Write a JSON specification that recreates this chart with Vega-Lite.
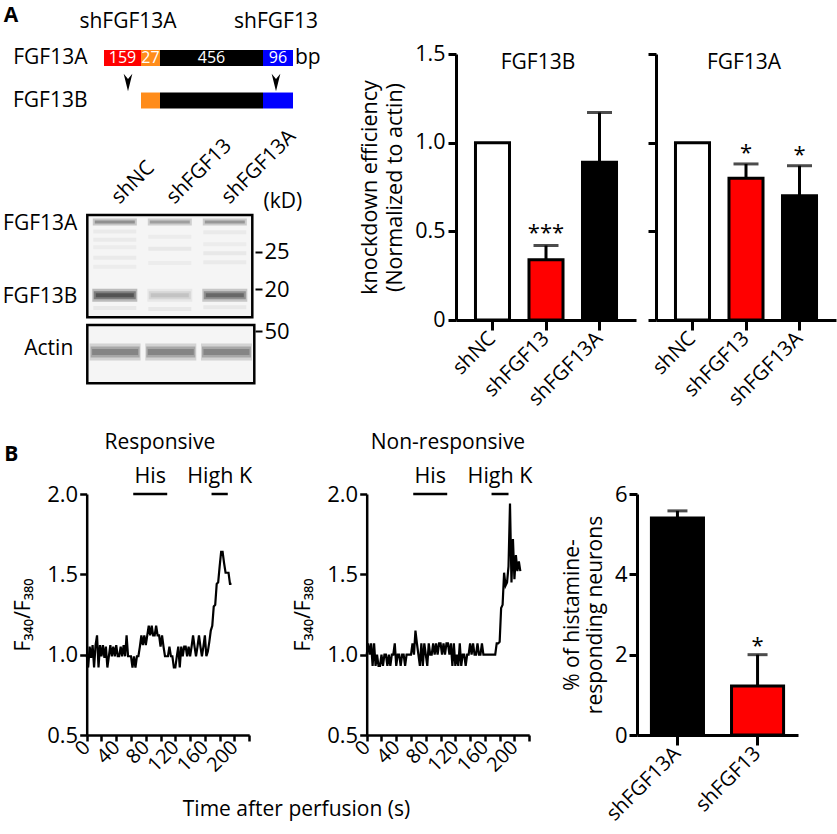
{
"$schema": "https://vega.github.io/schema/vega-lite/v6.json",
"width": 837, "height": 834,
"autosize": {"type": "none"},
"padding": 0,
"background": "white",
"config": {
  "font": "Open Sans",
  "view": {"stroke": null},
  "axis": {"grid": false, "domainColor": "black", "tickColor": "black", "labelColor": "black", "titleColor": "black", "labelFont": "Open Sans", "titleFont": "Open Sans", "titleFontWeight": "normal"},
  "text": {"font": "Open Sans", "color": "black"},
  "legend": {"disable": true}
},
"datasets": {
  "gene": [
    {"isoform": "FGF13A", "region": "r1", "start": 0, "end": 37, "label": "159"},
    {"isoform": "FGF13A", "region": "r2", "start": 37, "end": 56, "label": "27"},
    {"isoform": "FGF13A", "region": "r3", "start": 56, "end": 159, "label": "456"},
    {"isoform": "FGF13A", "region": "r4", "start": 159, "end": 189, "label": "96"},
    {"isoform": "FGF13B", "region": "r2", "start": 37, "end": 56, "label": ""},
    {"isoform": "FGF13B", "region": "r3", "start": 56, "end": 159, "label": ""},
    {"isoform": "FGF13B", "region": "r4", "start": 159, "end": 189, "label": ""}
  ],
  "targets": [{"shRNA": "shFGF13A", "pos": 24}, {"shRNA": "shFGF13", "pos": 172}],
  "blotMain": [
    {"lane": 1, "protein": "FGF13A", "kD": 28.95, "intensity": 0.55},
    {"lane": 2, "protein": "FGF13A", "kD": 28.95, "intensity": 0.45},
    {"lane": 3, "protein": "FGF13A", "kD": 28.95, "intensity": 0.5},
    {"lane": 1, "protein": "FGF13B", "kD": 19.2, "intensity": 0.9},
    {"lane": 2, "protein": "FGF13B", "kD": 19.2, "intensity": 0.2},
    {"lane": 3, "protein": "FGF13B", "kD": 19.2, "intensity": 0.72}
  ],
  "blotFaint": [
    {"lane": 1, "kD": 27.7, "intensity": 0.05}, {"lane": 1, "kD": 26.6, "intensity": 0.05}, {"lane": 1, "kD": 25.6, "intensity": 0.04}, {"lane": 1, "kD": 24.2, "intensity": 0.05}, {"lane": 1, "kD": 23.0, "intensity": 0.04}, {"lane": 1, "kD": 17.5, "intensity": 0.06},
    {"lane": 2, "kD": 27.0, "intensity": 0.04}, {"lane": 2, "kD": 25.4, "intensity": 0.06}, {"lane": 2, "kD": 23.5, "intensity": 0.04}, {"lane": 2, "kD": 17.4, "intensity": 0.06},
    {"lane": 3, "kD": 27.6, "intensity": 0.05}, {"lane": 3, "kD": 26.0, "intensity": 0.04}, {"lane": 3, "kD": 24.8, "intensity": 0.06}, {"lane": 3, "kD": 23.6, "intensity": 0.05}, {"lane": 3, "kD": 17.6, "intensity": 0.06}
  ],
  "blotRows": [{"row": "FGF13A", "kD": 28.95}, {"row": "FGF13B", "kD": 19.2}],
  "actin": [{"lane": 1, "kD": 43, "intensity": 0.62}, {"lane": 2, "kD": 43, "intensity": 0.62}, {"lane": 3, "kD": 43, "intensity": 0.62}],
  "kdB": [{"group": "shNC", "mean": 1.0}, {"group": "shFGF13", "mean": 0.34, "upper": 0.42, "sig": "***"}, {"group": "shFGF13A", "mean": 0.89, "upper": 1.17}],
  "kdA": [{"group": "shNC", "mean": 1.0}, {"group": "shFGF13", "mean": 0.8, "upper": 0.88, "sig": "*"}, {"group": "shFGF13A", "mean": 0.7, "upper": 0.87, "sig": "*"}],
  "pct": [{"group": "shFGF13A", "mean": 5.4, "upper": 5.58}, {"group": "shFGF13", "mean": 1.22, "upper": 2.0, "sig": "*"}],
  "stim": [
    {"panel": "Responsive", "label": "His", "start": 63, "end": 109},
    {"panel": "Responsive", "label": "High K", "start": 169, "end": 191},
    {"panel": "Non-responsive", "label": "His", "start": 63, "end": 109},
    {"panel": "Non-responsive", "label": "High K", "start": 169, "end": 192}
  ],
  "resp": [{"t":0,"v":1.0},{"t":2,"v":0.92},{"t":4,"v":1.05},{"t":6,"v":0.98},{"t":8,"v":1.06},{"t":10,"v":0.92},{"t":12,"v":1.06},{"t":14,"v":1.12},{"t":16,"v":0.92},{"t":18,"v":1.06},{"t":20,"v":0.99},{"t":22,"v":1.06},{"t":24,"v":0.98},{"t":26,"v":1.05},{"t":28,"v":0.92},{"t":30,"v":0.99},{"t":32,"v":1.06},{"t":34,"v":0.99},{"t":36,"v":1.05},{"t":38,"v":0.99},{"t":40,"v":1.06},{"t":42,"v":0.99},{"t":44,"v":0.99},{"t":46,"v":1.05},{"t":48,"v":0.99},{"t":50,"v":1.06},{"t":52,"v":0.99},{"t":54,"v":1.12},{"t":56,"v":0.99},{"t":58,"v":0.99},{"t":60,"v":0.99},{"t":62,"v":0.92},{"t":64,"v":0.99},{"t":66,"v":0.92},{"t":68,"v":0.99},{"t":70,"v":0.99},{"t":72,"v":1.05},{"t":74,"v":1.12},{"t":76,"v":1.06},{"t":78,"v":1.12},{"t":80,"v":1.06},{"t":82,"v":1.12},{"t":84,"v":1.18},{"t":86,"v":1.12},{"t":88,"v":1.18},{"t":90,"v":1.12},{"t":92,"v":1.12},{"t":94,"v":1.18},{"t":96,"v":1.12},{"t":98,"v":1.12},{"t":100,"v":1.05},{"t":102,"v":1.12},{"t":104,"v":1.05},{"t":106,"v":0.99},{"t":108,"v":0.99},{"t":110,"v":0.99},{"t":112,"v":1.05},{"t":114,"v":0.99},{"t":116,"v":0.99},{"t":118,"v":0.92},{"t":120,"v":0.92},{"t":122,"v":0.99},{"t":124,"v":1.05},{"t":126,"v":0.92},{"t":128,"v":1.05},{"t":130,"v":0.99},{"t":132,"v":1.05},{"t":134,"v":1.05},{"t":136,"v":0.99},{"t":138,"v":1.05},{"t":140,"v":0.99},{"t":142,"v":1.05},{"t":144,"v":1.12},{"t":146,"v":1.05},{"t":148,"v":0.99},{"t":150,"v":1.05},{"t":152,"v":1.12},{"t":154,"v":1.05},{"t":156,"v":0.99},{"t":158,"v":1.05},{"t":160,"v":1.12},{"t":162,"v":0.99},{"t":164,"v":1.02},{"t":166,"v":1.08},{"t":168,"v":1.15},{"t":170,"v":1.18},{"t":172,"v":1.30},{"t":174,"v":1.31},{"t":176,"v":1.44},{"t":178,"v":1.45},{"t":180,"v":1.55},{"t":182,"v":1.64},{"t":184,"v":1.64},{"t":186,"v":1.57},{"t":188,"v":1.51},{"t":190,"v":1.51},{"t":192,"v":1.51},{"t":194,"v":1.44},{"t":196,"v":1.44}],
  "nonresp": [{"t":0,"v":1.0},{"t":2,"v":1.07},{"t":4,"v":1.0},{"t":6,"v":1.07},{"t":8,"v":0.93},{"t":10,"v":1.07},{"t":12,"v":0.93},{"t":14,"v":1.0},{"t":16,"v":0.93},{"t":18,"v":0.93},{"t":20,"v":1.0},{"t":22,"v":0.93},{"t":24,"v":1.0},{"t":26,"v":1.0},{"t":28,"v":0.93},{"t":30,"v":1.0},{"t":32,"v":0.93},{"t":34,"v":1.0},{"t":36,"v":1.0},{"t":38,"v":1.07},{"t":40,"v":0.93},{"t":42,"v":1.0},{"t":44,"v":1.0},{"t":46,"v":0.93},{"t":48,"v":1.0},{"t":50,"v":1.0},{"t":52,"v":0.93},{"t":54,"v":1.0},{"t":56,"v":1.0},{"t":58,"v":1.0},{"t":60,"v":1.0},{"t":62,"v":1.07},{"t":64,"v":1.0},{"t":66,"v":1.15},{"t":68,"v":1.07},{"t":70,"v":1.0},{"t":72,"v":0.93},{"t":74,"v":1.07},{"t":76,"v":0.93},{"t":78,"v":1.07},{"t":80,"v":1.0},{"t":82,"v":0.93},{"t":84,"v":1.07},{"t":86,"v":1.0},{"t":88,"v":1.0},{"t":90,"v":1.07},{"t":92,"v":1.0},{"t":94,"v":1.07},{"t":96,"v":1.0},{"t":98,"v":1.07},{"t":100,"v":1.07},{"t":102,"v":1.0},{"t":104,"v":1.07},{"t":106,"v":1.0},{"t":108,"v":1.07},{"t":110,"v":1.07},{"t":112,"v":1.0},{"t":114,"v":1.07},{"t":116,"v":0.93},{"t":118,"v":1.07},{"t":120,"v":0.93},{"t":122,"v":1.0},{"t":124,"v":0.93},{"t":126,"v":1.07},{"t":128,"v":0.93},{"t":130,"v":1.0},{"t":132,"v":1.0},{"t":134,"v":0.93},{"t":136,"v":1.0},{"t":138,"v":1.0},{"t":140,"v":1.07},{"t":142,"v":1.0},{"t":144,"v":1.07},{"t":146,"v":1.0},{"t":148,"v":1.0},{"t":150,"v":1.07},{"t":152,"v":1.0},{"t":154,"v":1.0},{"t":156,"v":1.07},{"t":158,"v":1.0},{"t":160,"v":1.0},{"t":162,"v":1.0},{"t":164,"v":1.0},{"t":166,"v":1.0},{"t":168,"v":1.0},{"t":170,"v":1.0},{"t":172,"v":1.0},{"t":174,"v":1.0},{"t":176,"v":1.07},{"t":178,"v":1.07},{"t":180,"v":1.08},{"t":182,"v":1.29},{"t":184,"v":1.31},{"t":186,"v":1.51},{"t":188,"v":1.43},{"t":190,"v":1.45},{"t":192,"v":1.55},{"t":194,"v":1.94},{"t":196,"v":1.45},{"t":198,"v":1.72},{"t":200,"v":1.47},{"t":202,"v":1.62},{"t":204,"v":1.52},{"t":206,"v":1.58},{"t":208,"v":1.52}]
},
"resolve": {"scale": {"x": "independent", "y": "independent", "color": "independent", "opacity": "independent"}, "axis": {"x": "independent", "y": "independent"}},
"layer": [
  {
    "data": {"name": "gene"},
    "layer": [
      {"mark": {"type": "rect"},
       "encoding": {
         "x": {"field": "start", "type": "quantitative", "scale": {"domain": [0, 189], "range": [104, 293], "nice": false, "zero": false}, "axis": null},
         "x2": {"field": "end"},
         "y": {"field": "isoform", "type": "nominal", "scale": {"type": "band", "domain": ["FGF13A", "FGF13B"], "range": [50, 108.5], "paddingInner": 0.624, "paddingOuter": 0}, "axis": {"orient": "left", "offset": -88, "domain": false, "ticks": false, "tickSize": 0, "labelPadding": 1, "labelFontSize": 21, "title": null}},
         "color": {"field": "region", "type": "nominal", "scale": {"domain": ["r1", "r2", "r3", "r4"], "range": ["#ff0000", "#ff8c1a", "#000000", "#0000ff"]}, "legend": null}
       }},
      {"transform": [{"filter": "datum.label != ''"}, {"calculate": "(datum.start + datum.end) / 2", "as": "mid"}],
       "mark": {"type": "text", "color": "white", "fontSize": 16, "baseline": "middle"},
       "encoding": {"x": {"field": "mid", "type": "quantitative", "axis": null}, "y": {"field": "isoform", "type": "nominal", "axis": null}, "text": {"field": "label"}}},
      {"data": {"values": [{"unit": "bp"}]},
       "mark": {"type": "text", "fontSize": 21, "align": "left", "dx": 2, "baseline": "middle"},
       "encoding": {"x": {"datum": 189, "type": "quantitative", "axis": null}, "y": {"datum": "FGF13A", "type": "nominal", "axis": null}, "text": {"field": "unit"}}},
      {"data": {"name": "targets"},
       "mark": {"type": "point", "shape": "M-0.5,-1L0,1L0.5,-1L0,-0.4Z", "filled": true, "size": 300, "color": "black", "opacity": 1},
       "encoding": {"x": {"field": "pos", "type": "quantitative", "axis": null}, "y": {"datum": "FGF13B", "type": "nominal", "axis": null}, "yOffset": {"value": -10}}},
      {"data": {"name": "targets"},
       "mark": {"type": "text", "fontSize": 21, "dy": -36, "baseline": "middle"},
       "encoding": {"x": {"field": "pos", "type": "quantitative", "axis": null}, "y": {"datum": "FGF13A", "type": "nominal", "axis": null}, "text": {"field": "shRNA"}}},
      {"data": {"values": [{"panel": "A"}]},
       "mark": {"type": "text", "fontSize": 21, "fontWeight": "bold", "dy": -42, "baseline": "middle"},
       "encoding": {"x": {"datum": -93, "type": "quantitative", "axis": null}, "y": {"datum": "FGF13A", "type": "nominal", "axis": null}, "text": {"field": "panel"}}}
    ],
    "resolve": {"axis": {"x": "independent", "y": "independent"}}
  },
  {
    "layer": [
      {"data": {"values": [{"box": 1}]},
       "mark": {"type": "rect", "fill": "#f5f5f5", "stroke": "black", "strokeWidth": 2.5},
       "encoding": {
         "x": {"datum": 0.5, "type": "quantitative", "scale": {"domain": [0.5, 3.5], "range": [87.3, 252.3], "nice": false, "zero": false}, "axis": null},
         "x2": {"datum": 3.5},
         "y": {"datum": 16.28, "type": "quantitative", "scale": {"domain": [16.28, 29.88], "range": [317.3, 215], "nice": false, "zero": false}, "axis": null},
         "y2": {"datum": 29.88}
       }},
      {"data": {"name": "blotFaint"},
       "mark": {"type": "tick", "orient": "horizontal", "size": 43, "thickness": 4, "color": "#222222"},
       "encoding": {"x": {"field": "lane", "type": "quantitative", "axis": null}, "y": {"field": "kD", "type": "quantitative", "axis": null}, "opacity": {"field": "intensity", "type": "quantitative", "scale": {"domain": [0, 1], "range": [0, 1]}, "legend": null}}},
      {"data": {"name": "blotMain"}, "transform": [{"filter": "datum.protein == 'FGF13A'"}],
       "mark": {"type": "tick", "orient": "horizontal", "size": 44, "thickness": 7, "color": "#222222", "fillOpacity": 0.4},
       "encoding": {"x": {"field": "lane", "type": "quantitative", "axis": null}, "y": {"field": "kD", "type": "quantitative", "axis": null}, "opacity": {"field": "intensity", "type": "quantitative", "legend": null}}},
      {"data": {"name": "blotMain"}, "transform": [{"filter": "datum.protein == 'FGF13A'"}],
       "mark": {"type": "tick", "orient": "horizontal", "size": 40, "thickness": 3, "color": "#222222", "fillOpacity": 0.6},
       "encoding": {"x": {"field": "lane", "type": "quantitative", "axis": null}, "y": {"field": "kD", "type": "quantitative", "axis": null}, "opacity": {"field": "intensity", "type": "quantitative", "legend": null}}},
      {"data": {"name": "blotMain"}, "transform": [{"filter": "datum.protein == 'FGF13B'"}],
       "mark": {"type": "tick", "orient": "horizontal", "size": 45, "thickness": 13, "color": "#222222", "fillOpacity": 0.3},
       "encoding": {"x": {"field": "lane", "type": "quantitative", "axis": null}, "y": {"field": "kD", "type": "quantitative", "axis": null}, "opacity": {"field": "intensity", "type": "quantitative", "legend": null}}},
      {"data": {"name": "blotMain"}, "transform": [{"filter": "datum.protein == 'FGF13B'"}],
       "mark": {"type": "tick", "orient": "horizontal", "size": 42, "thickness": 8, "color": "#222222", "fillOpacity": 0.45},
       "encoding": {"x": {"field": "lane", "type": "quantitative", "axis": null}, "y": {"field": "kD", "type": "quantitative", "axis": null}, "opacity": {"field": "intensity", "type": "quantitative", "legend": null}}},
      {"data": {"name": "blotMain"}, "transform": [{"filter": "datum.protein == 'FGF13B'"}],
       "mark": {"type": "tick", "orient": "horizontal", "size": 38, "thickness": 4, "color": "#222222", "fillOpacity": 0.5},
       "encoding": {
         "x": {"field": "lane", "type": "quantitative", "axis": {"orient": "top", "offset": -215, "values": [1, 2, 3], "labelExpr": "['shNC','shFGF13','shFGF13A'][datum.value - 1]", "domain": false, "ticks": false, "tickSize": 0, "labelAngle": -45, "labelAlign": "left", "labelBaseline": "middle", "labelPadding": 15, "labelFontSize": 20.5, "labelFlush": false, "labelOverlap": false, "title": null}},
         "y": {"field": "kD", "type": "quantitative", "axis": {"orient": "right", "offset": -582, "values": [20, 25], "domain": false, "tickSize": 7, "tickWidth": 2, "labelPadding": 2, "labelFontSize": 22, "title": "(kD)", "titleAngle": 0, "titleAlign": "left", "titleBaseline": "middle", "titleX": 8, "titleY": 201, "titleFontSize": 21}},
         "opacity": {"field": "intensity", "type": "quantitative", "legend": null}
       }},
      {"data": {"name": "blotRows"},
       "mark": {"type": "text", "fontSize": 21, "align": "right", "baseline": "middle", "dx": -10, "dy": 2},
       "encoding": {"x": {"datum": 0.5, "type": "quantitative", "axis": null}, "y": {"field": "kD", "type": "quantitative", "axis": null}, "text": {"field": "row"}}}
    ],
    "resolve": {"axis": {"x": "independent", "y": "independent"}}
  },
  {
    "layer": [
      {"data": {"values": [{"box": 2}]},
       "mark": {"type": "rect", "fill": "#f5f5f5", "stroke": "black", "strokeWidth": 2.5},
       "encoding": {
         "x": {"datum": 0.5, "type": "quantitative", "scale": {"domain": [0.5, 3.5], "range": [87.3, 254.3], "nice": false, "zero": false}, "axis": null},
         "x2": {"datum": 3.5},
         "y": {"datum": 32.57, "type": "quantitative", "scale": {"domain": [32.57, 52], "range": [383.3, 325], "nice": false, "zero": false}, "axis": null},
         "y2": {"datum": 52}
       }},
      {"data": {"name": "actin"},
       "mark": {"type": "tick", "orient": "horizontal", "size": 51, "thickness": 17, "color": "#222222", "fillOpacity": 0.25},
       "encoding": {"x": {"field": "lane", "type": "quantitative", "axis": null}, "y": {"field": "kD", "type": "quantitative", "axis": null}, "opacity": {"field": "intensity", "type": "quantitative", "scale": {"domain": [0, 1], "range": [0, 1]}, "legend": null}}},
      {"data": {"name": "actin"},
       "mark": {"type": "tick", "orient": "horizontal", "size": 49, "thickness": 11, "color": "#222222", "fillOpacity": 0.4},
       "encoding": {"x": {"field": "lane", "type": "quantitative", "axis": null}, "y": {"field": "kD", "type": "quantitative", "axis": null}, "opacity": {"field": "intensity", "type": "quantitative", "legend": null}}},
      {"data": {"name": "actin"},
       "mark": {"type": "tick", "orient": "horizontal", "size": 46, "thickness": 6, "color": "#222222", "fillOpacity": 0.4},
       "encoding": {
         "x": {"field": "lane", "type": "quantitative", "axis": null},
         "y": {"field": "kD", "type": "quantitative", "axis": {"orient": "right", "offset": -582, "values": [50], "domain": false, "tickSize": 7, "tickWidth": 2, "labelPadding": 2, "labelFontSize": 22, "title": null}},
         "opacity": {"field": "intensity", "type": "quantitative", "legend": null}
       }},
      {"data": {"values": [{"row": "Actin", "kD": 43}]},
       "mark": {"type": "text", "fontSize": 21, "align": "right", "baseline": "middle", "dx": -14, "dy": -3},
       "encoding": {"x": {"datum": 0.5, "type": "quantitative", "axis": null}, "y": {"field": "kD", "type": "quantitative", "axis": null}, "text": {"field": "row"}}}
    ],
    "resolve": {"axis": {"x": "independent", "y": "independent"}}
  },
  {
    "data": {"name": "kdB"},
    "layer": [
      {"mark": {"type": "bar", "stroke": "black", "strokeWidth": 3},
       "encoding": {
         "x": {"field": "group", "type": "nominal", "sort": null, "scale": {"type": "band", "domain": ["shNC", "shFGF13", "shFGF13A"], "range": [456, 636], "paddingInner": 0.364, "paddingOuter": 0.364},
               "axis": {"orient": "bottom", "offset": -514, "tickSize": 10, "tickWidth": 3, "domainWidth": 3, "labelAngle": -45, "labelAlign": "right", "labelBaseline": "middle", "labelPadding": 5, "labelFontSize": 20.5, "title": null}},
         "y": {"field": "mean", "type": "quantitative", "scale": {"domain": [0, 1.5], "range": [320, 54], "nice": false},
               "axis": {"orient": "left", "offset": -456, "values": [0, 0.5, 1, 1.5], "labelExpr": "datum.value == 0 ? '0' : format(datum.value, '.1f')", "tickSize": 8, "tickWidth": 3, "domainWidth": 3, "labelFontSize": 21.5, "labelPadding": 3, "title": ["knockdown efficiency", "(Normalized to actin)"], "titleFontSize": 21.5, "titleLineHeight": 25, "titlePadding": 8}},
         "color": {"field": "group", "type": "nominal", "scale": {"domain": ["shNC", "shFGF13", "shFGF13A"], "range": ["#ffffff", "#ff0000", "#000000"]}, "legend": null}
       }},
      {"transform": [{"filter": "isValid(datum.upper)"}],
       "mark": {"type": "rule", "strokeWidth": 3, "color": "black"},
       "encoding": {"x": {"field": "group", "type": "nominal", "axis": null}, "y": {"field": "mean", "type": "quantitative", "axis": null}, "y2": {"field": "upper"}}},
      {"transform": [{"filter": "isValid(datum.upper)"}],
       "mark": {"type": "tick", "orient": "horizontal", "size": 25, "thickness": 3, "color": "black"},
       "encoding": {"x": {"field": "group", "type": "nominal", "axis": null}, "y": {"field": "upper", "type": "quantitative", "axis": null}}},
      {"transform": [{"filter": "isValid(datum.sig)"}],
       "mark": {"type": "text", "fontSize": 22, "baseline": "alphabetic", "dy": -6},
       "encoding": {"x": {"field": "group", "type": "nominal", "axis": null}, "y": {"field": "upper", "type": "quantitative", "axis": null}, "text": {"field": "sig"}}},
      {"data": {"values": [{"title": "FGF13B"}]},
       "mark": {"type": "text", "fontSize": 21, "dx": -8, "dy": 9, "baseline": "middle"},
       "encoding": {"x": {"datum": "shFGF13", "type": "nominal", "axis": null}, "y": {"datum": 1.5, "type": "quantitative", "axis": null}, "text": {"field": "title"}}}
    ],
    "resolve": {"axis": {"x": "independent", "y": "independent"}}
  },
  {
    "data": {"name": "kdA"},
    "layer": [
      {"mark": {"type": "bar", "stroke": "black", "strokeWidth": 3},
       "encoding": {
         "x": {"field": "group", "type": "nominal", "sort": null, "scale": {"type": "band", "domain": ["shNC", "shFGF13", "shFGF13A"], "range": [656, 836], "paddingInner": 0.364, "paddingOuter": 0.364},
               "axis": {"orient": "bottom", "offset": -514, "tickSize": 10, "tickWidth": 3, "domainWidth": 3, "labelAngle": -45, "labelAlign": "right", "labelBaseline": "middle", "labelPadding": 5, "labelFontSize": 20.5, "title": null}},
         "y": {"field": "mean", "type": "quantitative", "scale": {"domain": [0, 1.5], "range": [320, 54], "nice": false},
               "axis": {"orient": "left", "offset": -656, "values": [0, 0.5, 1, 1.5], "labels": false, "tickSize": 8, "tickWidth": 3, "domainWidth": 3, "title": null}},
         "color": {"field": "group", "type": "nominal", "scale": {"domain": ["shNC", "shFGF13", "shFGF13A"], "range": ["#ffffff", "#ff0000", "#000000"]}, "legend": null}
       }},
      {"transform": [{"filter": "isValid(datum.upper)"}],
       "mark": {"type": "rule", "strokeWidth": 3, "color": "black"},
       "encoding": {"x": {"field": "group", "type": "nominal", "axis": null}, "y": {"field": "mean", "type": "quantitative", "axis": null}, "y2": {"field": "upper"}}},
      {"transform": [{"filter": "isValid(datum.upper)"}],
       "mark": {"type": "tick", "orient": "horizontal", "size": 25, "thickness": 3, "color": "black"},
       "encoding": {"x": {"field": "group", "type": "nominal", "axis": null}, "y": {"field": "upper", "type": "quantitative", "axis": null}}},
      {"transform": [{"filter": "isValid(datum.sig)"}],
       "mark": {"type": "text", "fontSize": 22, "baseline": "alphabetic", "dy": -4},
       "encoding": {"x": {"field": "group", "type": "nominal", "axis": null}, "y": {"field": "upper", "type": "quantitative", "axis": null}, "text": {"field": "sig"}}},
      {"data": {"values": [{"title": "FGF13A"}]},
       "mark": {"type": "text", "fontSize": 21, "dx": -2, "dy": 9, "baseline": "middle"},
       "encoding": {"x": {"datum": "shFGF13", "type": "nominal", "axis": null}, "y": {"datum": 1.5, "type": "quantitative", "axis": null}, "text": {"field": "title"}}}
    ],
    "resolve": {"axis": {"x": "independent", "y": "independent"}}
  },
  {
    "layer": [
      {"data": {"name": "resp"},
       "mark": {"type": "line", "color": "black", "strokeWidth": 2.2},
       "encoding": {
         "x": {"field": "t", "type": "quantitative", "scale": {"domain": [0, 220], "range": [86.7, 249.2], "nice": false, "zero": false},
               "axis": {"orient": "bottom", "offset": -99, "values": [0, 20, 40, 60, 80, 100, 120, 140, 160, 180, 200, 220], "labelExpr": "datum.value % 40 == 0 && datum.value <= 200 ? datum.label : ''", "tickSize": 6, "tickWidth": 2.5, "domainWidth": 2.5, "labelAngle": -45, "labelAlign": "right", "labelBaseline": "middle", "labelPadding": 3, "labelFontSize": 20, "labelFlush": false, "labelOverlap": false, "title": "Time after perfusion (s)", "titleX": 296, "titleY": 74, "titleAlign": "center", "titleBaseline": "middle", "titleFontSize": 21}},
         "y": {"field": "v", "type": "quantitative", "scale": {"domain": [0.5, 2], "range": [735, 494], "nice": false, "zero": false},
               "axis": {"orient": "left", "offset": -86.7, "values": [0.5, 1, 1.5, 2], "format": ".1f", "tickSize": 7, "tickWidth": 2.5, "domainWidth": 2.5, "labelFontSize": 22, "labelPadding": 2, "title": "F₃₄₀/F₃₈₀", "titleFontSize": 21, "titlePadding": 13}}
       }},
      {"data": {"name": "stim"}, "transform": [{"filter": "datum.panel == 'Responsive'"}],
       "mark": {"type": "rule", "strokeWidth": 2.5, "color": "black"},
       "encoding": {"x": {"field": "start", "type": "quantitative", "axis": null}, "x2": {"field": "end"}, "y": {"datum": 2, "type": "quantitative", "axis": null}}},
      {"data": {"name": "stim"}, "transform": [{"filter": "datum.panel == 'Responsive'"}, {"calculate": "(datum.start + datum.end) / 2", "as": "mid"}],
       "mark": {"type": "text", "fontSize": 21.5, "dy": -17, "baseline": "middle"},
       "encoding": {"x": {"field": "mid", "type": "quantitative", "axis": null}, "y": {"datum": 2, "type": "quantitative", "axis": null}, "text": {"field": "label"}}},
      {"data": {"values": [{"title": "Responsive", "panel": "B"}]},
       "mark": {"type": "text", "fontSize": 21, "dy": -51, "baseline": "middle"},
       "encoding": {"x": {"datum": 99, "type": "quantitative", "axis": null}, "y": {"datum": 2, "type": "quantitative", "axis": null}, "text": {"field": "title"}}},
      {"data": {"values": [{"title": "Responsive", "panel": "B"}]},
       "mark": {"type": "text", "fontSize": 21, "fontWeight": "bold", "dy": -39, "baseline": "middle"},
       "encoding": {"x": {"datum": -102, "type": "quantitative", "axis": null}, "y": {"datum": 2, "type": "quantitative", "axis": null}, "text": {"field": "panel"}}}
    ],
    "resolve": {"axis": {"x": "independent", "y": "independent"}}
  },
  {
    "layer": [
      {"data": {"name": "nonresp"},
       "mark": {"type": "line", "color": "black", "strokeWidth": 2.2},
       "encoding": {
         "x": {"field": "t", "type": "quantitative", "scale": {"domain": [0, 220], "range": [366.7, 529.2], "nice": false, "zero": false},
               "axis": {"orient": "bottom", "offset": -99, "values": [0, 20, 40, 60, 80, 100, 120, 140, 160, 180, 200, 220], "labelExpr": "datum.value % 40 == 0 && datum.value <= 200 ? datum.label : ''", "tickSize": 6, "tickWidth": 2.5, "domainWidth": 2.5, "labelAngle": -45, "labelAlign": "right", "labelBaseline": "middle", "labelPadding": 3, "labelFontSize": 20, "labelFlush": false, "labelOverlap": false, "title": null}},
         "y": {"field": "v", "type": "quantitative", "scale": {"domain": [0.5, 2], "range": [735, 494], "nice": false, "zero": false},
               "axis": {"orient": "left", "offset": -366.7, "values": [0.5, 1, 1.5, 2], "format": ".1f", "tickSize": 7, "tickWidth": 2.5, "domainWidth": 2.5, "labelFontSize": 22, "labelPadding": 2, "title": "F₃₄₀/F₃₈₀", "titleFontSize": 21, "titlePadding": 13}}
       }},
      {"data": {"name": "stim"}, "transform": [{"filter": "datum.panel == 'Non-responsive'"}],
       "mark": {"type": "rule", "strokeWidth": 2.5, "color": "black"},
       "encoding": {"x": {"field": "start", "type": "quantitative", "axis": null}, "x2": {"field": "end"}, "y": {"datum": 2, "type": "quantitative", "axis": null}}},
      {"data": {"name": "stim"}, "transform": [{"filter": "datum.panel == 'Non-responsive'"}, {"calculate": "(datum.start + datum.end) / 2", "as": "mid"}],
       "mark": {"type": "text", "fontSize": 21.5, "dy": -17, "baseline": "middle"},
       "encoding": {"x": {"field": "mid", "type": "quantitative", "axis": null}, "y": {"datum": 2, "type": "quantitative", "axis": null}, "text": {"field": "label"}}},
      {"data": {"values": [{"title": "Non-responsive"}]},
       "mark": {"type": "text", "fontSize": 21, "dy": -51, "baseline": "middle"},
       "encoding": {"x": {"datum": 110, "type": "quantitative", "axis": null}, "y": {"datum": 2, "type": "quantitative", "axis": null}, "text": {"field": "title"}}}
    ],
    "resolve": {"axis": {"x": "independent", "y": "independent"}}
  },
  {
    "data": {"name": "pct"},
    "layer": [
      {"mark": {"type": "bar", "stroke": "black", "strokeWidth": 3},
       "encoding": {
         "x": {"field": "group", "type": "nominal", "sort": null, "scale": {"type": "band", "domain": ["shFGF13A", "shFGF13"], "range": [637, 798], "paddingInner": 0.35, "paddingOuter": 0.18},
               "axis": {"orient": "bottom", "offset": -99, "tickSize": 10, "tickWidth": 3, "domainWidth": 3, "labelAngle": -45, "labelAlign": "right", "labelBaseline": "middle", "labelPadding": 5, "labelFontSize": 20.5, "title": null}},
         "y": {"field": "mean", "type": "quantitative", "scale": {"domain": [0, 6], "range": [735, 494], "nice": false},
               "axis": {"orient": "left", "offset": -637, "values": [0, 2, 4, 6], "tickSize": 8, "tickWidth": 3, "domainWidth": 3, "labelFontSize": 22, "labelPadding": 2, "title": ["% of histamine-", "responding neurons"], "titleFontSize": 21, "titleLineHeight": 23, "titlePadding": 9}},
         "color": {"field": "group", "type": "nominal", "scale": {"domain": ["shFGF13A", "shFGF13"], "range": ["#000000", "#ff0000"]}, "legend": null}
       }},
      {"mark": {"type": "rule", "strokeWidth": 3, "color": "black"},
       "encoding": {"x": {"field": "group", "type": "nominal", "axis": null}, "y": {"field": "mean", "type": "quantitative", "axis": null}, "y2": {"field": "upper"}}},
      {"mark": {"type": "tick", "orient": "horizontal", "size": 20, "thickness": 3, "color": "black"},
       "encoding": {"x": {"field": "group", "type": "nominal", "axis": null}, "y": {"field": "upper", "type": "quantitative", "axis": null}}},
      {"transform": [{"filter": "isValid(datum.sig)"}],
       "mark": {"type": "text", "fontSize": 22, "baseline": "alphabetic", "dy": -2},
       "encoding": {"x": {"field": "group", "type": "nominal", "axis": null}, "y": {"field": "upper", "type": "quantitative", "axis": null}, "text": {"field": "sig"}}}
    ],
    "resolve": {"axis": {"x": "independent", "y": "independent"}}
  }
]
}
